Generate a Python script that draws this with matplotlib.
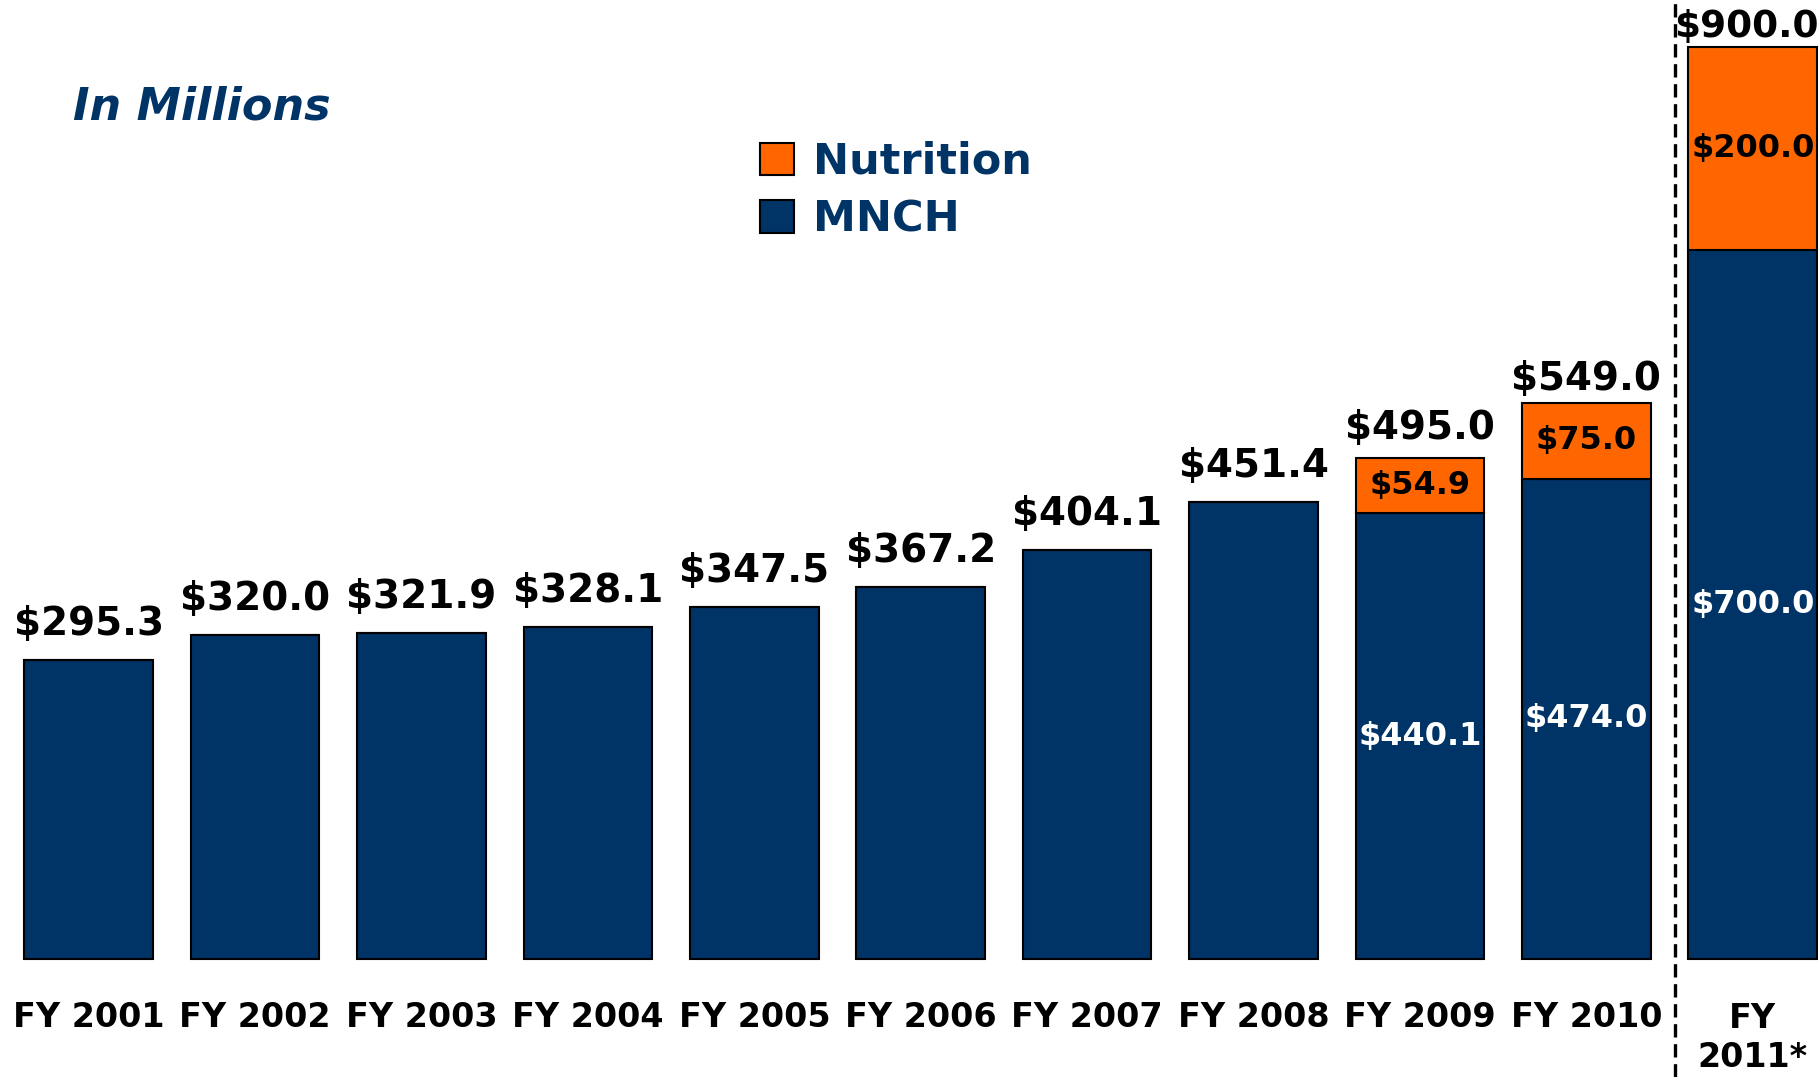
import matplotlib.pyplot as plt
from matplotlib.patches import Patch

# data
years = ['FY 2001', 'FY 2002', 'FY 2003', 'FY 2004', 'FY 2005', 'FY 2006',
         'FY 2007', 'FY 2008', 'FY 2009', 'FY 2010', 'FY\n2011*']
mnch = [295.3, 320.0, 321.9, 328.1, 347.5, 367.2, 404.1, 451.4, 440.1, 474.0, 700.0]
nutrition = [0, 0, 0, 0, 0, 0, 0, 0, 54.9, 75.0, 200.0]
totals = [295.3, 320.0, 321.9, 328.1, 347.5, 367.2, 404.1, 451.4, 495.0, 549.0, 900.0]

navy = '#003366'
orange = '#FF6600'

fig = plt.figure(figsize=(18.18, 10.77), dpi=100)
ax = fig.add_axes([0, 0, 1, 1])
ax.set_xlim(-0.533, 10.392)
ax.set_ylim(-116.5, 946.9)
ax.axis('off')

x = list(range(len(years)))
ax.bar(x, mnch, width=0.773, color=navy, edgecolor='black', linewidth=1.5)
ax.bar(x, nutrition, width=0.773, bottom=mnch, color=orange, edgecolor='black', linewidth=1.5)

# total labels on top
offs = [36, 36, 36, 36, 36, 36, 36, 36, 30, 24, 20]
for i in x:
    dx = -6 if i == len(x) - 1 else 0
    ax.annotate('$%.1f' % totals[i], (i, totals[i]), xytext=(dx, offs[i]),
                textcoords='offset pixels', ha='center', va='center',
                fontsize=28 if i < len(x) - 1 else 27, fontweight='bold', color='black')

# segment labels inside the stacked bars
for i in x:
    if nutrition[i] > 0:
        ax.text(i, mnch[i] + nutrition[i] / 2, '$%.1f' % nutrition[i], ha='center', va='center',
                fontsize=23, fontweight='bold', color='black')
        ax.text(i, mnch[i] / 2, '$%.1f' % mnch[i], ha='center', va='center',
                fontsize=23, fontweight='bold', color='white')

# category labels
for i in x:
    yl = -78 if '\n' in years[i] else -58
    ax.text(i, yl, years[i], ha='center', va='center',
            fontsize=24, fontweight='bold', color='black', linespacing=1.2)

# divider before the forecast year
ax.axvline(9.53, color='black', linewidth=2.4, dashes=(4, 2))

fig.text(73 / 1818, 1 - 107 / 1077, 'In Millions', fontsize=32, fontweight='bold',
         fontstyle='italic', color=navy, va='center', ha='left')

handles = [Patch(facecolor=orange, edgecolor='black', linewidth=1.5, label='Nutrition'),
           Patch(facecolor=navy, edgecolor='black', linewidth=1.5, label='MNCH')]
leg = ax.legend(handles=handles, loc='upper left', bbox_to_anchor=(760 / 1818, 1 - 141 / 1077),
                bbox_transform=fig.transFigure, frameon=False, fontsize=31,
                handlelength=0.78, handleheight=0.78, handletextpad=0.45,
                labelspacing=0.36, borderpad=0, borderaxespad=0)
for t in leg.get_texts():
    t.set_color(navy)
    t.set_fontweight('bold')

fig.savefig('out.png', dpi=100)
